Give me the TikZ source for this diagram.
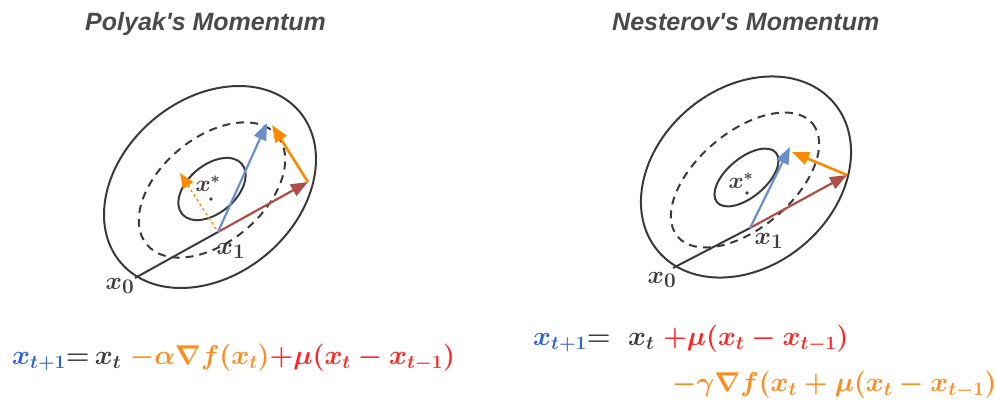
\RequirePackage{fix-cm}
\documentclass[tikz,border=0pt]{standalone}
\usepackage{fontspec}
\newfontfamily\titlefont{Liberation Sans}
\usetikzlibrary{arrows.meta}
\definecolor{ell}{HTML}{3A3A3A}
\definecolor{arblue}{HTML}{6A8FC8}
\definecolor{arred}{HTML}{B04E48}
\definecolor{arorange}{HTML}{FF8A00}
\definecolor{txblue}{HTML}{2E63D2}
\definecolor{txorange}{HTML}{FF8C1E}
\definecolor{txred}{HTML}{FF2626}
\definecolor{txgray}{HTML}{3C3C3C}
\definecolor{titlegray}{HTML}{4A4A4A}
\begin{document}
\begin{tikzpicture}[x=1pt,y=-1pt,
 contour/.style={draw=ell, line width=2pt},
 dcontour/.style={contour, dash pattern=on 8pt off 6pt},
 vec/.style={line width=2.2pt, -{Triangle[length=17pt,width=13pt]}},
 title/.style={font=\titlefont\bfseries\itshape\fontsize{25}{29}\selectfont, text=titlegray, inner sep=0, anchor=base west},
 lbl/.style={font=\fontsize{24.88}{28}\selectfont\boldmath, text=txgray, inner sep=0},
 slbl/.style={lbl, font=\fontsize{23}{27}\selectfont\boldmath},
 eq/.style={font=\fontsize{27.2}{32}\selectfont\boldmath, inner sep=0, anchor=base west}]
\useasboundingbox (0,0) rectangle (996,402);

% titles
\node[title] (t1) at (85,30) {Polyak's Momentum};
\node[title] (t2) at (612,30) {Nesterov's Momentum};

% ---------- left diagram ----------
\coordinate (Lc) at (210,187);
\coordinate (Ldc) at (212,190);
\coordinate (Lic) at (212,189);
\draw[contour, rotate around={40:(Lc)}] (Lc) ellipse [x radius=117, y radius=88];
\draw[dcontour, rotate around={40:(Ldc)}] (Ldc) ellipse [x radius=85, y radius=52];
\draw[contour, rotate around={40:(Lic)}] (Lic) ellipse [x radius=39, y radius=24];
\coordinate (L0) at (135,278);
\coordinate (L1) at (218,232);
\coordinate (Lr) at (308,182);
\coordinate (Lb) at (267,123);
\coordinate (Lo) at (272,125);
\coordinate (Ld0) at (216,229);
\coordinate (Ld) at (180,173);
\draw[ell, line width=2pt] (L0) -- (L1);
\draw[vec, arorange, dash pattern=on 2.5pt off 3pt, line width=1.4pt, -{Triangle[length=15pt,width=12pt]}] (Ld0) -- (Ld);
\draw[vec, arred] (L1) -- (Lr);
\draw[vec, arblue] (L1) -- (Lb);
\draw[vec, arorange, line width=2.6pt] (Lr) -- (Lo);
\node[slbl] (Lxs) at (208,184) {$x^*$};
\fill[txgray] (211,199) circle (1.8);
\node[lbl] (Lx0) at (120,286) {$x_0$};
\node[lbl] (Lx1) at (231,251) {$x_1$};

% ---------- right diagram ----------
\coordinate (Rc) at (746,177);
\coordinate (Rdc) at (745,180);
\coordinate (Ric) at (746.5,177.5);
\draw[contour, rotate around={40:(Rc)}] (Rc) ellipse [x radius=115, y radius=89];
\draw[dcontour, rotate around={40:(Rdc)}] (Rdc) ellipse [x radius=88, y radius=48];
\draw[contour, rotate around={40:(Ric)}] (Ric) ellipse [x radius=38.5, y radius=19.5];
\coordinate (R0) at (673,268);
\coordinate (R1) at (750,228);
\coordinate (Rr) at (847,175);
\coordinate (Rb) at (790,147);
\coordinate (Ro) at (792,152);
\draw[ell, line width=2pt] (R0) -- (R1);
\draw[vec, arred] (R1) -- (Rr);
\draw[vec, arblue] (R1) -- (Rb);
\draw[vec, arorange, line width=2.6pt] (Rr) -- (Ro);
\node[slbl] (Rxs) at (741,181) {$x^*$};
\fill[txgray] (747,193) circle (1.8);
\node[lbl] (Rx0) at (662,280) {$x_0$};
\node[lbl] (Rx1) at (769,241) {$x_1$};

% ---------- equations ----------
\node[eq] (eqL) at (12,364) {$\color{txblue}x_{t+1}\color{txgray}{=}\,x_t\;\color{txorange}{-}\alpha\nabla f(x_t)\color{txred}{+}\mu(x_t-x_{t-1})$};
\node[eq] (eqR1) at (533,345) {$\color{txblue}x_{t+1}\color{txgray}{=}\;\;x_t\;\color{txred}{+}\mu(x_t-x_{t-1})$};
\node[eq] (eqR2) at (672,391) {$\color{txorange}{-}\gamma\nabla f(x_t+\mu(x_t-x_{t-1})$};
\end{tikzpicture}
\end{document}
